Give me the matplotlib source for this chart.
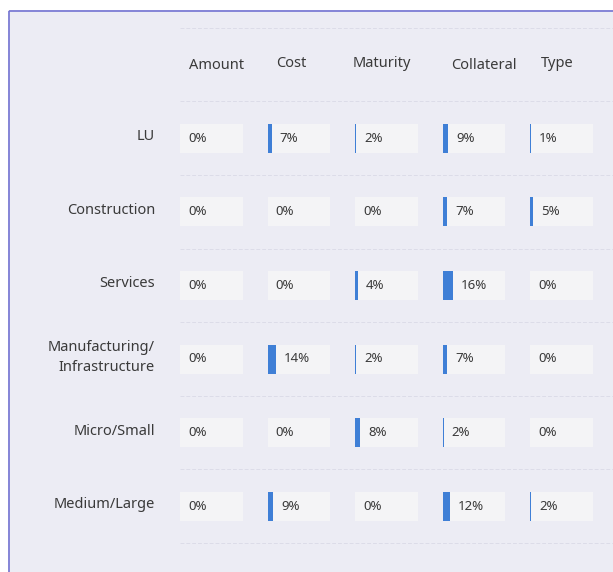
import numpy as np
import matplotlib.pyplot as plt
from matplotlib.patches import Rectangle

plt.rcParams['font.family'] = ['Noto Sans', 'DejaVu Sans']

# data
rows = ['LU', 'Construction', 'Services', 'Manufacturing/\nInfrastructure', 'Micro/Small', 'Medium/Large']
cols = ['Amount', 'Cost', 'Maturity', 'Collateral', 'Type']
amount = [0, 0, 0, 0, 0, 0]
cost = [7, 0, 0, 14, 0, 9]
maturity = [2, 0, 4, 2, 8, 0]
collateral = [9, 7, 16, 7, 2, 12]
type_ = [1, 5, 0, 0, 0, 2]
values = np.array([amount, cost, maturity, collateral, type_]).T  # rows x cols

bg = '#ECECF4'
cell_bg = '#F4F4F6'
bar_color = '#3F7FD6'
text_color = '#3A3A3A'

W, H = 613, 572
fig = plt.figure(figsize=(W / 100, H / 100), dpi=100)
fig.patch.set_facecolor('white')
ax = fig.add_axes([0, 0, 1, 1])
ax.set_xlim(0, W)
ax.set_ylim(H, 0)
ax.axis('off')

# panel background with purple left/top edge
ax.add_patch(Rectangle((8, 10), W - 8, H - 10, facecolor=bg, edgecolor='none', zorder=0))
ax.plot([8.5, 8.5], [10.5, H], color='#7373D2', lw=1.2, zorder=1, solid_capstyle='butt')
ax.plot([8.5, W], [10.5, 10.5], color='#7373D2', lw=1.2, zorder=1, solid_capstyle='butt')

# layout
x0, col_step, cell_w = 180, 87.5, 62.5
y0, row_step, cell_h = 138.2, 73.6, 29

# dashed separators
for k in range(-1, len(rows) + 1):
    yy = y0 + (k - 0.5) * row_step
    ax.plot([180, W], [yy, yy], color='#DCDCE8', lw=0.7, ls=(0, (4, 2)), zorder=1)

# headers
head_dx = [5, -7, -4, 10, -4]
head_dy = [1, -1, -1, 1, -1]
for j, c in enumerate(cols):
    cx = x0 + j * col_step + cell_w / 2 + head_dx[j]
    ax.text(cx, y0 - row_step + head_dy[j], c, ha='center', va='center',
            fontsize=10.5, color=text_color)

# row labels
for i, r in enumerate(rows):
    ax.text(155, y0 + i * row_step - 1.5, r, ha='right', va='center',
            fontsize=10.5, color=text_color, linespacing=1.5)

# cells + bars
for i in range(len(rows)):
    yc = y0 + i * row_step
    for j in range(len(cols)):
        left = x0 + j * col_step
        ax.add_patch(Rectangle((left, yc - cell_h / 2), cell_w, cell_h,
                               facecolor=cell_bg, edgecolor='none', zorder=2))
        v = values[i, j]
        bw = v / 100 * cell_w
        if v > 0:
            ax.barh(yc, bw, left=left, height=cell_h, color=bar_color, zorder=3)
        ax.text(left + bw + 8, yc, f'{v}%', ha='left', va='center',
                fontsize=9.5, color=text_color, zorder=4)

fig.savefig('out.png', dpi=100, facecolor=fig.get_facecolor())
